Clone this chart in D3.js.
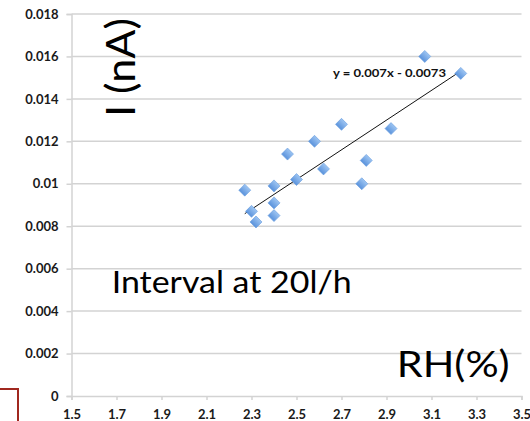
<!DOCTYPE html>
<html>
<head>
<meta charset="utf-8">
<script src="https://cdn.jsdelivr.net/npm/d3@7"></script>
<style>
  html, body { margin: 0; padding: 0; background: #fff; }
  svg { display: block; }
</style>
</head>
<body>
<svg id="chart" width="530" height="421"></svg>
<script>
// ---- data ----
const rh = [3.07, 3.23, 2.70, 2.92, 2.58, 2.46, 2.81, 2.62, 2.50, 2.79, 2.40, 2.27, 2.40, 2.30, 2.40, 2.32];
const current = [0.0160, 0.0152, 0.0128, 0.0126, 0.0120, 0.0114, 0.0111, 0.0107, 0.0102, 0.0100, 0.0099, 0.0097, 0.0091, 0.0087, 0.0085, 0.0082];
const xTicks = [1.5, 1.7, 1.9, 2.1, 2.3, 2.5, 2.7, 2.9, 3.1, 3.3, 3.5];
const yTicks = [0, 0.002, 0.004, 0.006, 0.008, 0.01, 0.012, 0.014, 0.016, 0.018];
const trendSlope = 0.007;
const trendIntercept = -0.0073;
const equationLabel = "y = 0.007x - 0.0073";
const yTitle = "I (nA)";
const xTitle = "RH(%)";
const note = "Interval at 20l/h";

const svg = d3.select("#chart");
const x = d3.scaleLinear().domain([1.5, 3.5]).range([71.5, 521.5]);
const y = d3.scaleLinear().domain([0, 0.018]).range([396, 14]);

const grid = "#d3d3d3";
const font = "Lato, 'Open Sans', sans-serif";

// gradient for markers
const defs = svg.append("defs");
const g = defs.append("linearGradient").attr("id", "mk").attr("x1", 0).attr("y1", 0).attr("x2", 0).attr("y2", 1);
g.append("stop").attr("offset", "0%").attr("stop-color", "#9cc4f2");
g.append("stop").attr("offset", "100%").attr("stop-color", "#5b93dc");

// gridlines
svg.append("g").selectAll("line").data(yTicks.filter(d => d > 0)).join("line")
  .attr("x1", x(1.5)).attr("x2", x(3.5))
  .attr("y1", d => y(d)).attr("y2", d => y(d))
  .attr("stroke", grid).attr("stroke-width", 1.5);

// y axis
const yAxis = svg.append("g").attr("transform", `translate(${x(1.5)},0)`)
  .call(d3.axisLeft(y).tickValues(yTicks).tickFormat(d => d3.format("")(+d.toFixed(3))).tickSize(5).tickPadding(8));
yAxis.select(".domain").attr("stroke", grid).attr("stroke-width", 1.5);
yAxis.selectAll(".tick line").attr("stroke", grid).attr("stroke-width", 1.5);
yAxis.selectAll(".tick text").attr("font-family", font).attr("font-weight", "bold")
  .attr("font-size", 13).attr("fill", "#1a1a1a");

// x axis
const xAxis = svg.append("g").attr("transform", `translate(0,${y(0)})`)
  .call(d3.axisBottom(x).tickValues(xTicks).tickFormat(d3.format(".1f")).tickSize(4).tickPadding(10));
xAxis.select(".domain").attr("stroke", grid).attr("stroke-width", 1.5);
xAxis.selectAll(".tick line").attr("stroke", grid).attr("stroke-width", 1.5);
xAxis.selectAll(".tick text").attr("font-family", font).attr("font-weight", "bold")
  .attr("font-size", 13).attr("fill", "#1a1a1a");

// trendline
const xMin = d3.min(rh), xMax = d3.max(rh);
svg.append("line")
  .attr("x1", x(xMin)).attr("y1", y(trendSlope * xMin + trendIntercept))
  .attr("x2", x(xMax)).attr("y2", y(trendSlope * xMax + trendIntercept))
  .attr("stroke", "#111").attr("stroke-width", 1);

// markers
const pts = rh.map((v, i) => ({ x: v, y: current[i] }));
svg.append("g").selectAll("path").data(pts).join("path")
  .attr("d", d3.symbol(d3.symbolSquare, 72))
  .attr("transform", d => `translate(${x(d.x)},${y(d.y)}) rotate(45)`)
  .attr("fill", "url(#mk)").attr("stroke", "#6a9fe0").attr("stroke-width", 0.6);

// equation label
svg.append("text").attr("x", 333).attr("y", 77.3)
  .attr("font-family", font).attr("font-weight", "bold").attr("font-size", 10.5)
  .attr("textLength", 113).attr("lengthAdjust", "spacingAndGlyphs")
  .attr("fill", "#111").text(equationLabel);

// y title
svg.append("text").attr("transform", "translate(135,117) rotate(-90)")
  .attr("font-family", font).attr("font-size", 41.5)
  .attr("textLength", 99).attr("lengthAdjust", "spacingAndGlyphs")
  .attr("fill", "#000").text(yTitle);

// note
svg.append("text").attr("x", 111.7).attr("y", 293.3)
  .attr("font-family", font).attr("font-size", 30)
  .attr("textLength", 240).attr("lengthAdjust", "spacingAndGlyphs")
  .attr("fill", "#000").text(note);

// x title
svg.append("text").attr("x", 396.7).attr("y", 376.7)
  .attr("font-family", font).attr("font-size", 37)
  .attr("textLength", 113).attr("lengthAdjust", "spacingAndGlyphs")
  .attr("fill", "#000").text(xTitle);

// red frame fragment
svg.append("path").attr("d", d3.line()([[0, 389], [18, 389], [18, 421]]))
  .attr("fill", "none").attr("stroke", "#a0281f").attr("stroke-width", 2);
</script>
</body>
</html>
